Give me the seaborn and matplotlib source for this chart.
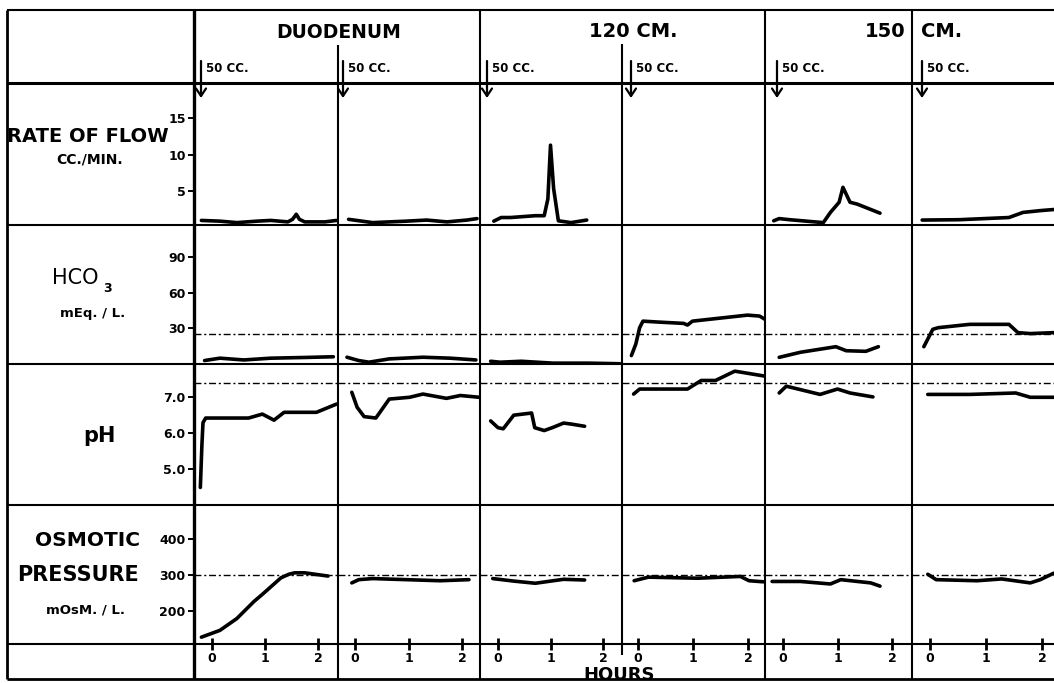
import matplotlib
matplotlib.use("Agg")
import matplotlib.pyplot as plt
import seaborn as sns

# --- DATA (hours after each 50 cc. dose) ---
SITES = ["DUODENUM", "120 CM.", "150 CM."]
DOSE = "50 CC."
HOUR_TICKS = [0, 1, 2]

# one list per column, left to right (two runs per site)
FLOW_T = [
    [-0.2, 0.15, 0.47, 0.85, 1.11, 1.43, 1.52, 1.59, 1.65, 1.75, 2.13, 2.35],
    [-0.12, 0.33, 0.96, 1.34, 1.72, 2.09, 2.28],
    [-0.08, 0.06, 0.24, 0.71, 0.88, 0.95, 1.0, 1.06, 1.15, 1.39, 1.69],
    [],
    [-0.17, -0.07, 0.12, 0.74, 0.87, 1.03, 1.10, 1.23, 1.36, 1.78],
    [-0.14, 0.52, 1.41, 1.66, 1.97, 2.21],
]
FLOW_V = [
    [0.95, 0.85, 0.65, 0.85, 0.95, 0.75, 1.1, 1.8, 1.1, 0.75, 0.75, 0.95],
    [1.1, 0.65, 0.85, 1.0, 0.75, 1.0, 1.2],
    [0.85, 1.35, 1.35, 1.6, 1.6, 3.9, 11.3, 5.3, 0.9, 0.65, 1.0],
    [],
    [0.9, 1.2, 1.05, 0.65, 2.05, 3.45, 5.5, 3.45, 3.2, 1.95],
    [1.0, 1.05, 1.35, 2.05, 2.3, 2.45],
]

HCO3_T = [
    [-0.14, 0.15, 0.6, 1.11, 1.75, 2.29],
    [-0.15, 0.07, 0.26, 0.64, 1.27, 1.78, 2.26],
    [-0.14, 0.04, 0.44, 1.05, 1.72, 2.32],
    [-0.12, -0.04, 0.03, 0.09, 0.38, 0.83, 0.9, 0.99, 1.54, 1.99, 2.21, 2.31],
    [-0.07, 0.32, 0.97, 1.16, 1.52, 1.75],
    [-0.11, 0.05, 0.15, 0.71, 1.41, 1.57, 1.79, 2.21],
]
HCO3_V = [
    [2.5, 4.5, 3.0, 4.5, 5.1, 5.7],
    [5.3, 2.5, 1.1, 3.9, 5.3, 4.5, 3.0],
    [1.9, 1.1, 1.9, 0.3, 0.3, -0.2],
    [6.7, 16.4, 30.3, 35.8, 35.0, 33.9, 32.5, 35.8, 38.6, 40.9, 40.1, 37.3],
    [5.2, 9.5, 14.2, 10.8, 10.3, 14.2],
    [14.2, 28.9, 30.3, 33.1, 33.1, 26.1, 25.3, 26.1],
]

PH_T = [
    [-0.22, -0.19, -0.17, -0.12, 0.69, 0.95, 1.17, 1.36, 1.97, 2.35],
    [-0.06, 0.04, 0.17, 0.39, 0.64, 1.02, 1.27, 1.71, 1.97, 2.32],
    [-0.14, 0.0, 0.1, 0.3, 0.64, 0.7, 0.88, 1.05, 1.25, 1.4, 1.65],
    [-0.08, 0.03, 0.9, 1.15, 1.41, 1.76, 2.31],
    [-0.07, 0.06, 0.68, 1.0, 1.23, 1.65],
    [-0.04, 0.71, 1.53, 1.79, 2.21],
]
PH_V = [
    [4.48, 5.68, 6.29, 6.42, 6.42, 6.53, 6.36, 6.58, 6.58, 6.81],
    [7.14, 6.72, 6.46, 6.42, 6.95, 7.0, 7.09, 6.97, 7.05, 7.0],
    [6.34, 6.15, 6.12, 6.5, 6.56, 6.15, 6.07, 6.16, 6.28, 6.25, 6.19],
    [7.09, 7.23, 7.23, 7.47, 7.47, 7.73, 7.59],
    [7.12, 7.31, 7.08, 7.23, 7.12, 7.01],
    [7.08, 7.08, 7.12, 7.0, 7.0],
]

OSM_T = [
    [-0.2, 0.15, 0.47, 0.79, 0.98, 1.3, 1.45, 1.56, 1.75, 2.19],
    [-0.06, 0.07, 0.33, 1.59, 2.13],
    [-0.1, 0.3, 0.71, 1.25, 1.65],
    [-0.07, 0.19, 1.09, 1.86, 2.02, 2.28],
    [-0.2, 0.32, 0.87, 1.06, 1.61, 1.78],
    [-0.04, 0.11, 0.84, 1.28, 1.79, 1.97, 2.21],
]
OSM_V = [
    [127, 146, 179, 226, 250, 292, 302, 306, 306, 297],
    [278, 287, 290, 284, 287],
    [290, 283, 277, 288, 286],
    [284, 294, 291, 296, 284, 281],
    [282, 282, 275, 287, 278, 269],
    [302, 287, 284, 289, 278, 287, 305],
]

NORMAL_HCO3 = 25
NORMAL_PH = 7.4
NORMAL_OSM = 300

FLOW_TICKS = [5, 10, 15]
HCO3_TICKS = [30, 60, 90]
PH_TICKS = [5.0, 6.0, 7.0]
OSM_TICKS = [200, 300, 400]

# --- LAYOUT (pixels of the 1054x683 page) ---
W, H = 1054, 683
COL_EDGES = [194, 338, 480, 622, 765, 912, 1054]
ZERO_PX = [212, 355, 498, 638, 783, 930]
PX_PER_HOUR = [53, 53.5, 52.5, 55, 54.5, 56]
ROW_EDGES = [83, 224.5, 364, 505, 644]
YLIMS = [(0.39, 19.85), (-0.42, 117.5), (3.99, 7.93), (108, 494.7)]
INK = "black"
DASHDOT = (0, (5, 2, 1.5, 2))

sns.set_theme(style="white")
plt.rcParams["font.family"] = ["DejaVu Sans"]

fig = plt.figure(figsize=(W / 100, H / 100), dpi=100)
bg = fig.add_axes([0, 0, 1, 1])
bg.set_xlim(0, W)
bg.set_ylim(H, 0)
bg.axis("off")


def hline(y, lw=1.5):
    bg.plot([7, W], [y, y], color=INK, lw=lw, solid_capstyle="butt")


def vline(x, y0, y1, lw=1.5):
    bg.plot([x, x], [y0, y1], color=INK, lw=lw, solid_capstyle="butt")


# ruled frame
hline(10)
hline(83, lw=2.2)
for y in ROW_EDGES[1:]:
    hline(y)
hline(679, lw=2)
vline(7, 10, 679, lw=2)
vline(194, 10, 679, lw=2.4)
for x in [480, 765, 912]:
    vline(x, 10, 679)
vline(338, 45, 679)
vline(622, 44, 655)

# header: sites and doses
bold = dict(fontweight="bold", color=INK)
bg.text(339, 38.5, SITES[0], ha="center", va="baseline", fontsize=13.5, **bold)
bg.text(633, 37, SITES[1], ha="center", va="baseline", fontsize=14, **bold)
num, unit = SITES[2].split()
bg.text(905, 37, num, ha="right", va="baseline", fontsize=14, **bold)
bg.text(921, 37, unit, ha="left", va="baseline", fontsize=14, **bold)

arrow_x = [201, 343, 487, 631, 777, 922]
for ax_x in arrow_x:
    bg.annotate("", xy=(ax_x, 98), xytext=(ax_x, 61),
                arrowprops=dict(arrowstyle="->,head_length=0.45,head_width=0.3",
                                color=INK, lw=1.6, shrinkA=0, shrinkB=0))
    bg.text(ax_x + 5, 72.5, DOSE, ha="left", va="baseline", fontsize=8.5, **bold)

# row labels
bg.text(7, 142, "RATE OF FLOW", ha="left", va="baseline", fontsize=14, **bold)
bg.text(90, 163.5, "CC./MIN.", ha="center", va="baseline", fontsize=10, **bold)
bg.text(52, 284, "HCO", ha="left", va="baseline", fontsize=15, color=INK)
bg.text(103, 292, "3", ha="left", va="baseline", fontsize=9, **bold)
bg.text(93, 316.5, "mEq. / L.", ha="center", va="baseline", fontsize=9.5, **bold)
bg.text(99, 442.5, "pH", ha="center", va="baseline", fontsize=15, **bold)
bg.text(87, 545.5, "OSMOTIC", ha="center", va="baseline", fontsize=14.5, **bold)
bg.text(78, 581, "PRESSURE", ha="center", va="baseline", fontsize=15, **bold)
bg.text(85, 613.5, "mOsM. / L.", ha="center", va="baseline", fontsize=9.5, **bold)
bg.text(619, 680.5, "HOURS", ha="center", va="baseline", fontsize=13, **bold)

# panels
rows = [
    (FLOW_T, FLOW_V, FLOW_TICKS, None, "{:.0f}"),
    (HCO3_T, HCO3_V, HCO3_TICKS, NORMAL_HCO3, "{:.0f}"),
    (PH_T, PH_V, PH_TICKS, NORMAL_PH, "{:.1f}"),
    (OSM_T, OSM_V, OSM_TICKS, NORMAL_OSM, "{:.0f}"),
]
for r, (ts, vs, ticks, normal, fmt) in enumerate(rows):
    top, bot = ROW_EDGES[r], ROW_EDGES[r + 1]
    for c in range(6):
        left, right = COL_EDGES[c], COL_EDGES[c + 1]
        ax = fig.add_axes([left / W, 1 - bot / H, (right - left) / W, (bot - top) / H])
        ax.patch.set_alpha(0)
        if ts[c]:
            sns.lineplot(x=ts[c], y=vs[c], ax=ax, color=INK, linewidth=2.6,
                         estimator=None, sort=False, legend=False,
                         solid_capstyle="round", solid_joinstyle="round")
        if normal is not None:
            ax.axhline(normal, color=INK, lw=1.0, ls=DASHDOT)
        ax.set_xlim((left - ZERO_PX[c]) / PX_PER_HOUR[c], (right - ZERO_PX[c]) / PX_PER_HOUR[c])
        ax.set_ylim(*YLIMS[r])
        ax.set_xlabel("")
        ax.set_ylabel("")
        for sp in ax.spines.values():
            sp.set_visible(False)

        if r == 3:
            ax.set_xticks(HOUR_TICKS)
            ax.set_xticklabels([str(h) for h in HOUR_TICKS], fontweight="bold", fontsize=9)
            ax.tick_params(axis="x", bottom=True, direction="inout", length=9,
                           width=2, pad=1.5, color=INK, labelcolor=INK)
        else:
            ax.set_xticks([])

        if c == 0:
            ax.set_yticks(ticks)
            ax.set_yticklabels([fmt.format(t) for t in ticks], fontweight="bold", fontsize=9)
            ax.tick_params(axis="y", left=True, direction="out", length=4.5,
                           width=1.4, pad=1.5, color=INK, labelcolor=INK)
        else:
            ax.set_yticks([])

fig.savefig("out.png", dpi=100)
